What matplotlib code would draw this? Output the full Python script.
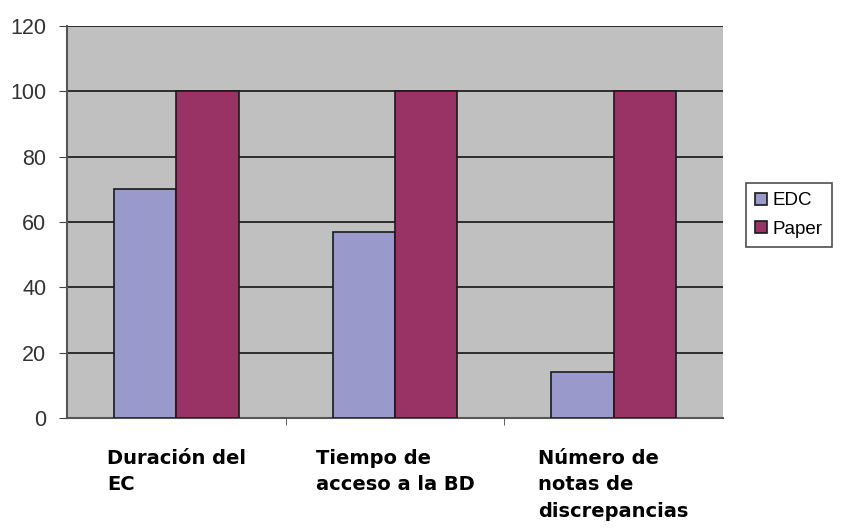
import matplotlib
matplotlib.use("Agg")
import matplotlib.pyplot as plt
import numpy as np

categories = ["Duración del\nEC", "Tiempo de\nacceso a la BD", "Número de\nnotas de\ndiscrepancias"]
series_names = ["EDC", "Paper"]
edc = [70, 57, 14]
paper = [100, 100, 100]
yticks = [0, 20, 40, 60, 80, 100, 120]

fig = plt.figure(figsize=(8.42, 5.29), dpi=100)
ax = fig.add_axes([67/842, 1-418/529, (723-67)/842, (418-26)/529])
ax.set_facecolor("#C0C0C0")

x = np.arange(len(categories))
w = 1/3.5
ax.bar(x - w/2, edc, w, color="#9999CC", edgecolor="#1a1a1a", linewidth=1.2, label=series_names[0], zorder=3)
ax.bar(x + w/2, paper, w, color="#993366", edgecolor="#1a1a1a", linewidth=1.2, label=series_names[1], zorder=3)

ax.set_xlim(-0.5, len(categories) - 0.5)
ax.set_ylim(0, 120)
ax.set_yticks(yticks)
ax.set_yticklabels([str(v) for v in yticks], fontsize=15.5, color="#333333", family="Liberation Sans")
ax.yaxis.grid(True, color="#222222", linewidth=1.3, zorder=1)
ax.set_axisbelow(True)

ax.set_xticks(x)
ax.set_xticklabels(categories, fontsize=14, fontweight="bold", family="DejaVu Sans",
                   multialignment="left", linespacing=1.5)
ax.tick_params(axis="x", length=0, pad=22)
ax.set_xticks(np.arange(0.5, len(categories) - 0.5, 1), minor=True)
ax.tick_params(axis="x", which="minor", length=5, direction="out", color="#444444")
ax.tick_params(axis="y", length=6, direction="out", color="#444444", pad=9)

for s in ["top", "right"]:
    ax.spines[s].set_visible(False)
ax.spines["left"].set_color("#555555")
ax.spines["left"].set_linewidth(1.5)
ax.spines["bottom"].set_color("#555555")
ax.spines["bottom"].set_linewidth(1.5)

leg = fig.legend(loc="upper left", bbox_to_anchor=(746/842, 1-183/529),
                 prop={"family": "Liberation Sans", "size": 13.5},
                 frameon=True, fancybox=False, edgecolor="#222222",
                 handlelength=0.6, handleheight=0.6, handletextpad=0.3,
                 borderpad=0.5, labelspacing=0.6, borderaxespad=0)
leg.get_frame().set_linewidth(1.2)

fig.savefig("out.png", dpi=100, facecolor="white")
